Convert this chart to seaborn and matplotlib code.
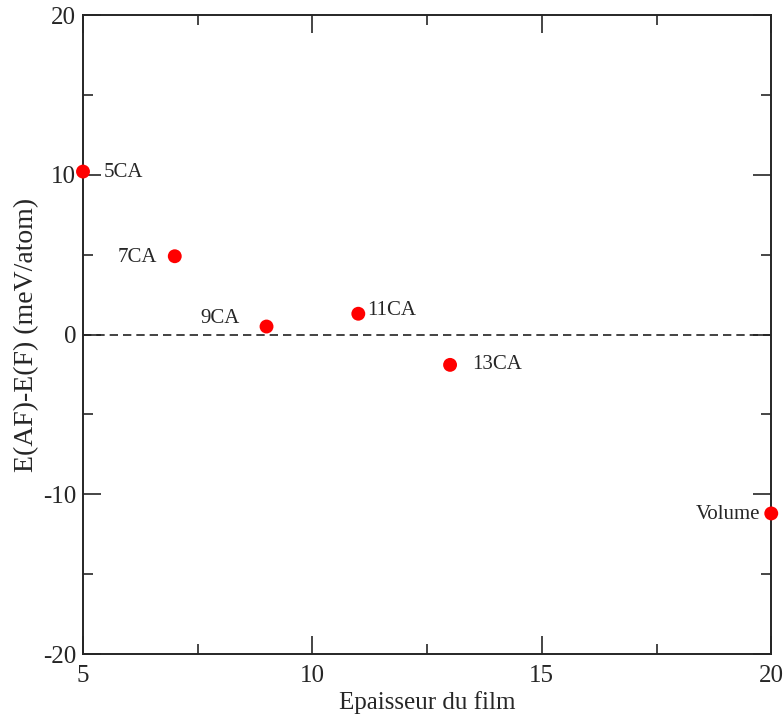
"""E(AF)-E(F) versus film thickness"""

import pandas as pd
import matplotlib
matplotlib.use("Agg")
import matplotlib.pyplot as plt
from matplotlib.ticker import MultipleLocator
import seaborn as sns

thickness = [5, 7, 9, 11, 13, 20]
energy_diff = [10.2, 4.9, 0.5, 1.3, -1.9, -11.2]
labels = ["5CA", "7CA", "9CA", "11CA", "13CA", "Volume"]
# label offsets in points, relative to each point
label_offsets = [(15, -1), (-13, -1), (-19, 6), (6.5, 2), (16, 0), (-8, -1)]
label_align = ["left", "right", "right", "left", "left", "right"]

df = pd.DataFrame({"thickness": thickness, "energy": energy_diff, "label": labels})

sns.set_style("ticks")
plt.rcParams["font.family"] = ["Liberation Serif", "DejaVu Serif"]
plt.rcParams["axes.unicode_minus"] = False

fig = plt.figure(figsize=(7.83, 7.15), dpi=100)
ax = fig.add_axes([0.106, 0.0853, 0.879, 0.8937])

ax.axhline(0, color="#222222", linestyle=(0, (5, 3)), linewidth=1.2, zorder=1)
sns.scatterplot(data=df, x="thickness", y="energy", ax=ax, color="red",
                s=100, edgecolor="none", zorder=3, clip_on=False)

for lab, xv, yv, off, ha in zip(labels, thickness, energy_diff, label_offsets, label_align):
    ax.annotate(lab, (xv, yv), xytext=off, textcoords="offset points",
                ha=ha, va="center", fontsize=15)

ax.set_xlim(5, 20)
ax.set_ylim(-20, 20)
ax.xaxis.set_major_locator(MultipleLocator(5))
ax.xaxis.set_minor_locator(MultipleLocator(2.5))
ax.yaxis.set_major_locator(MultipleLocator(10))
ax.yaxis.set_minor_locator(MultipleLocator(5))
ax.tick_params(which="both", direction="in", top=True, right=True, width=1.2,
               labelsize=18, pad=5)
ax.tick_params(axis="x", which="major", pad=8)
ax.tick_params(which="major", length=13)
ax.tick_params(which="minor", length=7)
for sp in ax.spines.values():
    sp.set_linewidth(1.4)

ax.set_xlabel("Epaisseur du film", fontsize=18, labelpad=3)
ax.set_ylabel("E(AF)-E(F) (meV/atom)", fontsize=20, labelpad=3)

plt.savefig("out.png", dpi=100)
plt.close()
